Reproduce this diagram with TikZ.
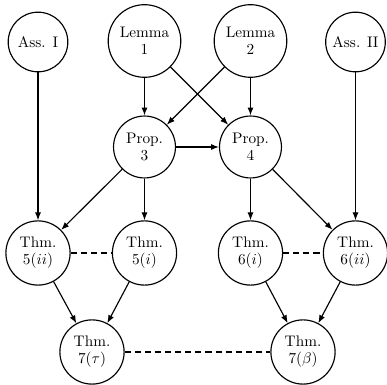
\documentclass[tikz,border=0pt]{standalone}
\usetikzlibrary{arrows.meta}
\begin{document}
\begin{tikzpicture}[x=0.654pt,y=-0.654pt,
  nd/.style={circle,draw,line width=0.75pt,inner sep=1pt,align=center,
    font=\linespread{0.92}\selectfont},
  assn/.style={nd,minimum size=39pt},
  lemn/.style={nd,minimum size=47.5pt},
  propn/.style={nd,minimum size=40.5pt},
  thmn/.style={nd,minimum size=42pt},
  arr/.style={line width=0.75pt,-{Latex[length=5.2pt,width=4pt]}},
  dsh/.style={line width=0.75pt,dash pattern=on 4pt off 2.6pt}]
\useasboundingbox (0,0) rectangle (387,385);
\node[assn] (AI) at (38,42) {Ass. I};
\node[lemn] (L1) at (144.5,41) {Lemma\\1};
\node[lemn] (L2) at (250.5,41) {Lemma\\2};
\node[assn] (AII) at (355.5,42) {Ass. II};
\node[propn] (P3) at (144.5,147) {Prop.\\3};
\node[propn] (P4) at (250.5,147) {Prop.\\4};
\node[thmn] (T5ii) at (38,253) {Thm.\\$5(ii)$};
\node[thmn] (T5i) at (144.5,253) {Thm.\\$5(i)$};
\node[thmn] (T6i) at (250.5,253) {Thm.\\$6(i)$};
\node[thmn] (T6ii) at (355.5,253) {Thm.\\$6(ii)$};
\node[thmn] (T7t) at (92,352) {Thm.\\$7(\tau)$};
\node[thmn] (T7b) at (303,352) {Thm.\\$7(\beta)$};
\draw[arr] (AI) -- (T5ii);
\draw[arr] (AII) -- (T6ii);
\draw[arr] (L1) -- (P3);
\draw[arr] (L1) -- (P4);
\draw[arr] (L2) -- (P3);
\draw[arr] (L2) -- (P4);
\draw[arr] (P3) -- (P4);
\draw[arr] (P3) -- (T5ii);
\draw[arr] (P3) -- (T5i);
\draw[arr] (P4) -- (T6i);
\draw[arr] (P4) -- (T6ii);
\draw[arr] (T5ii) -- (T7t);
\draw[arr] (T5i) -- (T7t);
\draw[arr] (T6i) -- (T7b);
\draw[arr] (T6ii) -- (T7b);
\draw[dsh] (T5ii) -- (T5i);
\draw[dsh] (T6i) -- (T6ii);
\draw[dsh] (T7t) -- (T7b);
\end{tikzpicture}
\end{document}
